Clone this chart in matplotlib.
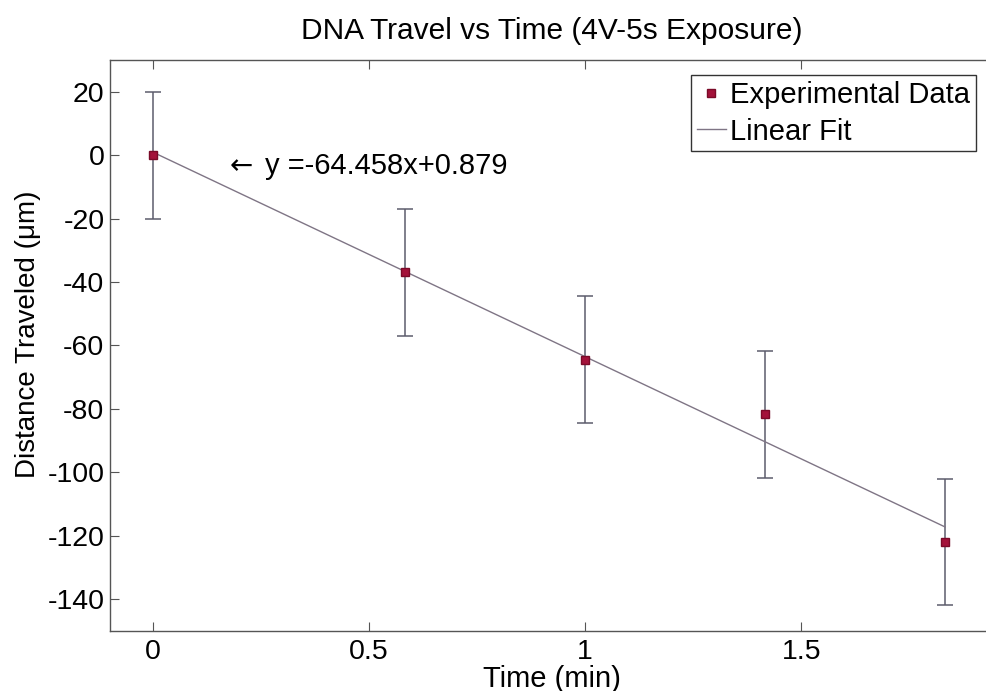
import numpy as np
import matplotlib
matplotlib.use("Agg")
import matplotlib.pyplot as plt

# data
time_min = [0.0, 0.583, 1.0, 1.417, 1.833]
distance_um = [0.0, -37.0, -64.5, -81.8, -122.0]
error_um = [20, 20, 20, 20, 20]

# linear fit coefficients printed on the chart
fit_slope = -64.458
fit_intercept = 0.879

x_ticks = [0, 0.5, 1, 1.5]
x_tick_labels = ["0", "0.5", "1", "1.5"]
y_ticks = [-140, -120, -100, -80, -60, -40, -20, 0, 20]

plt.rcParams['font.family'] = ['Liberation Sans', 'DejaVu Sans']
plt.rcParams['axes.unicode_minus'] = False

fig = plt.figure(figsize=(9.86, 6.91), dpi=100)
# axes runs slightly past the right edge (reference is cropped there)
ax = fig.add_axes([110 / 986, 1 - 630.7 / 691, (993 - 110) / 986, (630.7 - 60) / 691])

ax.errorbar(time_min, distance_um, yerr=error_um, fmt='none', ecolor='#5c5c6c',
            elinewidth=1.1, capsize=6, capthick=1.1, zorder=2)
ax.plot(time_min, distance_um, 's', color='#a3123a', markeredgecolor='#7a0a28',
        markersize=6, label='Experimental Data', zorder=4)

fit_x = np.array([time_min[0], time_min[-1]])
fit_y = fit_slope * fit_x + fit_intercept
ax.plot(fit_x, fit_y, '-', color='#7f7585', linewidth=1.0, label='Linear Fit', zorder=3)

# arrow + equation label
ax.text(0.177, -3.3, u"\u2190", fontsize=20, ha='left', va='center',
        family='DejaVu Sans')
ax.text(0.258, -3.3, "y =-64.458x+0.879", fontsize=21, ha='left', va='center')

ax.set_xlim(-0.1, 1.944)
ax.set_ylim(-150, 30)
ax.set_xticks(x_ticks)
ax.set_xticklabels(x_tick_labels)
ax.set_yticks(y_ticks)
ax.tick_params(direction='in', length=6.5, width=0.8, color='#555555', labelsize=20.5,
               top=True, right=False)
ax.tick_params(axis='x', pad=6)
ax.tick_params(axis='y', pad=4)
for s in ax.spines.values():
    s.set_color('#555555')
    s.set_linewidth(1.0)

ax.set_title("DNA Travel vs Time (4V-5s Exposure)", fontsize=21.5, pad=15)
ax.set_xlabel("Time (min)", fontsize=21, labelpad=0)
fig.text(28 / 986, 1 - 334 / 691, u"Distance Traveled (\u03bcm)", fontsize=20,
         rotation=90, ha='center', va='center')

leg = ax.legend(loc='upper right', bbox_to_anchor=(976 / 986, 1 - 75 / 691),
                bbox_transform=fig.transFigure, borderaxespad=0, fontsize=21,
                fancybox=False, framealpha=1, edgecolor='#333333',
                borderpad=0.2, handlelength=1.0, handletextpad=0.15,
                labelspacing=0.3, markerscale=0.9)
leg.get_frame().set_linewidth(1.0)

fig.savefig("out.png", dpi=100)
